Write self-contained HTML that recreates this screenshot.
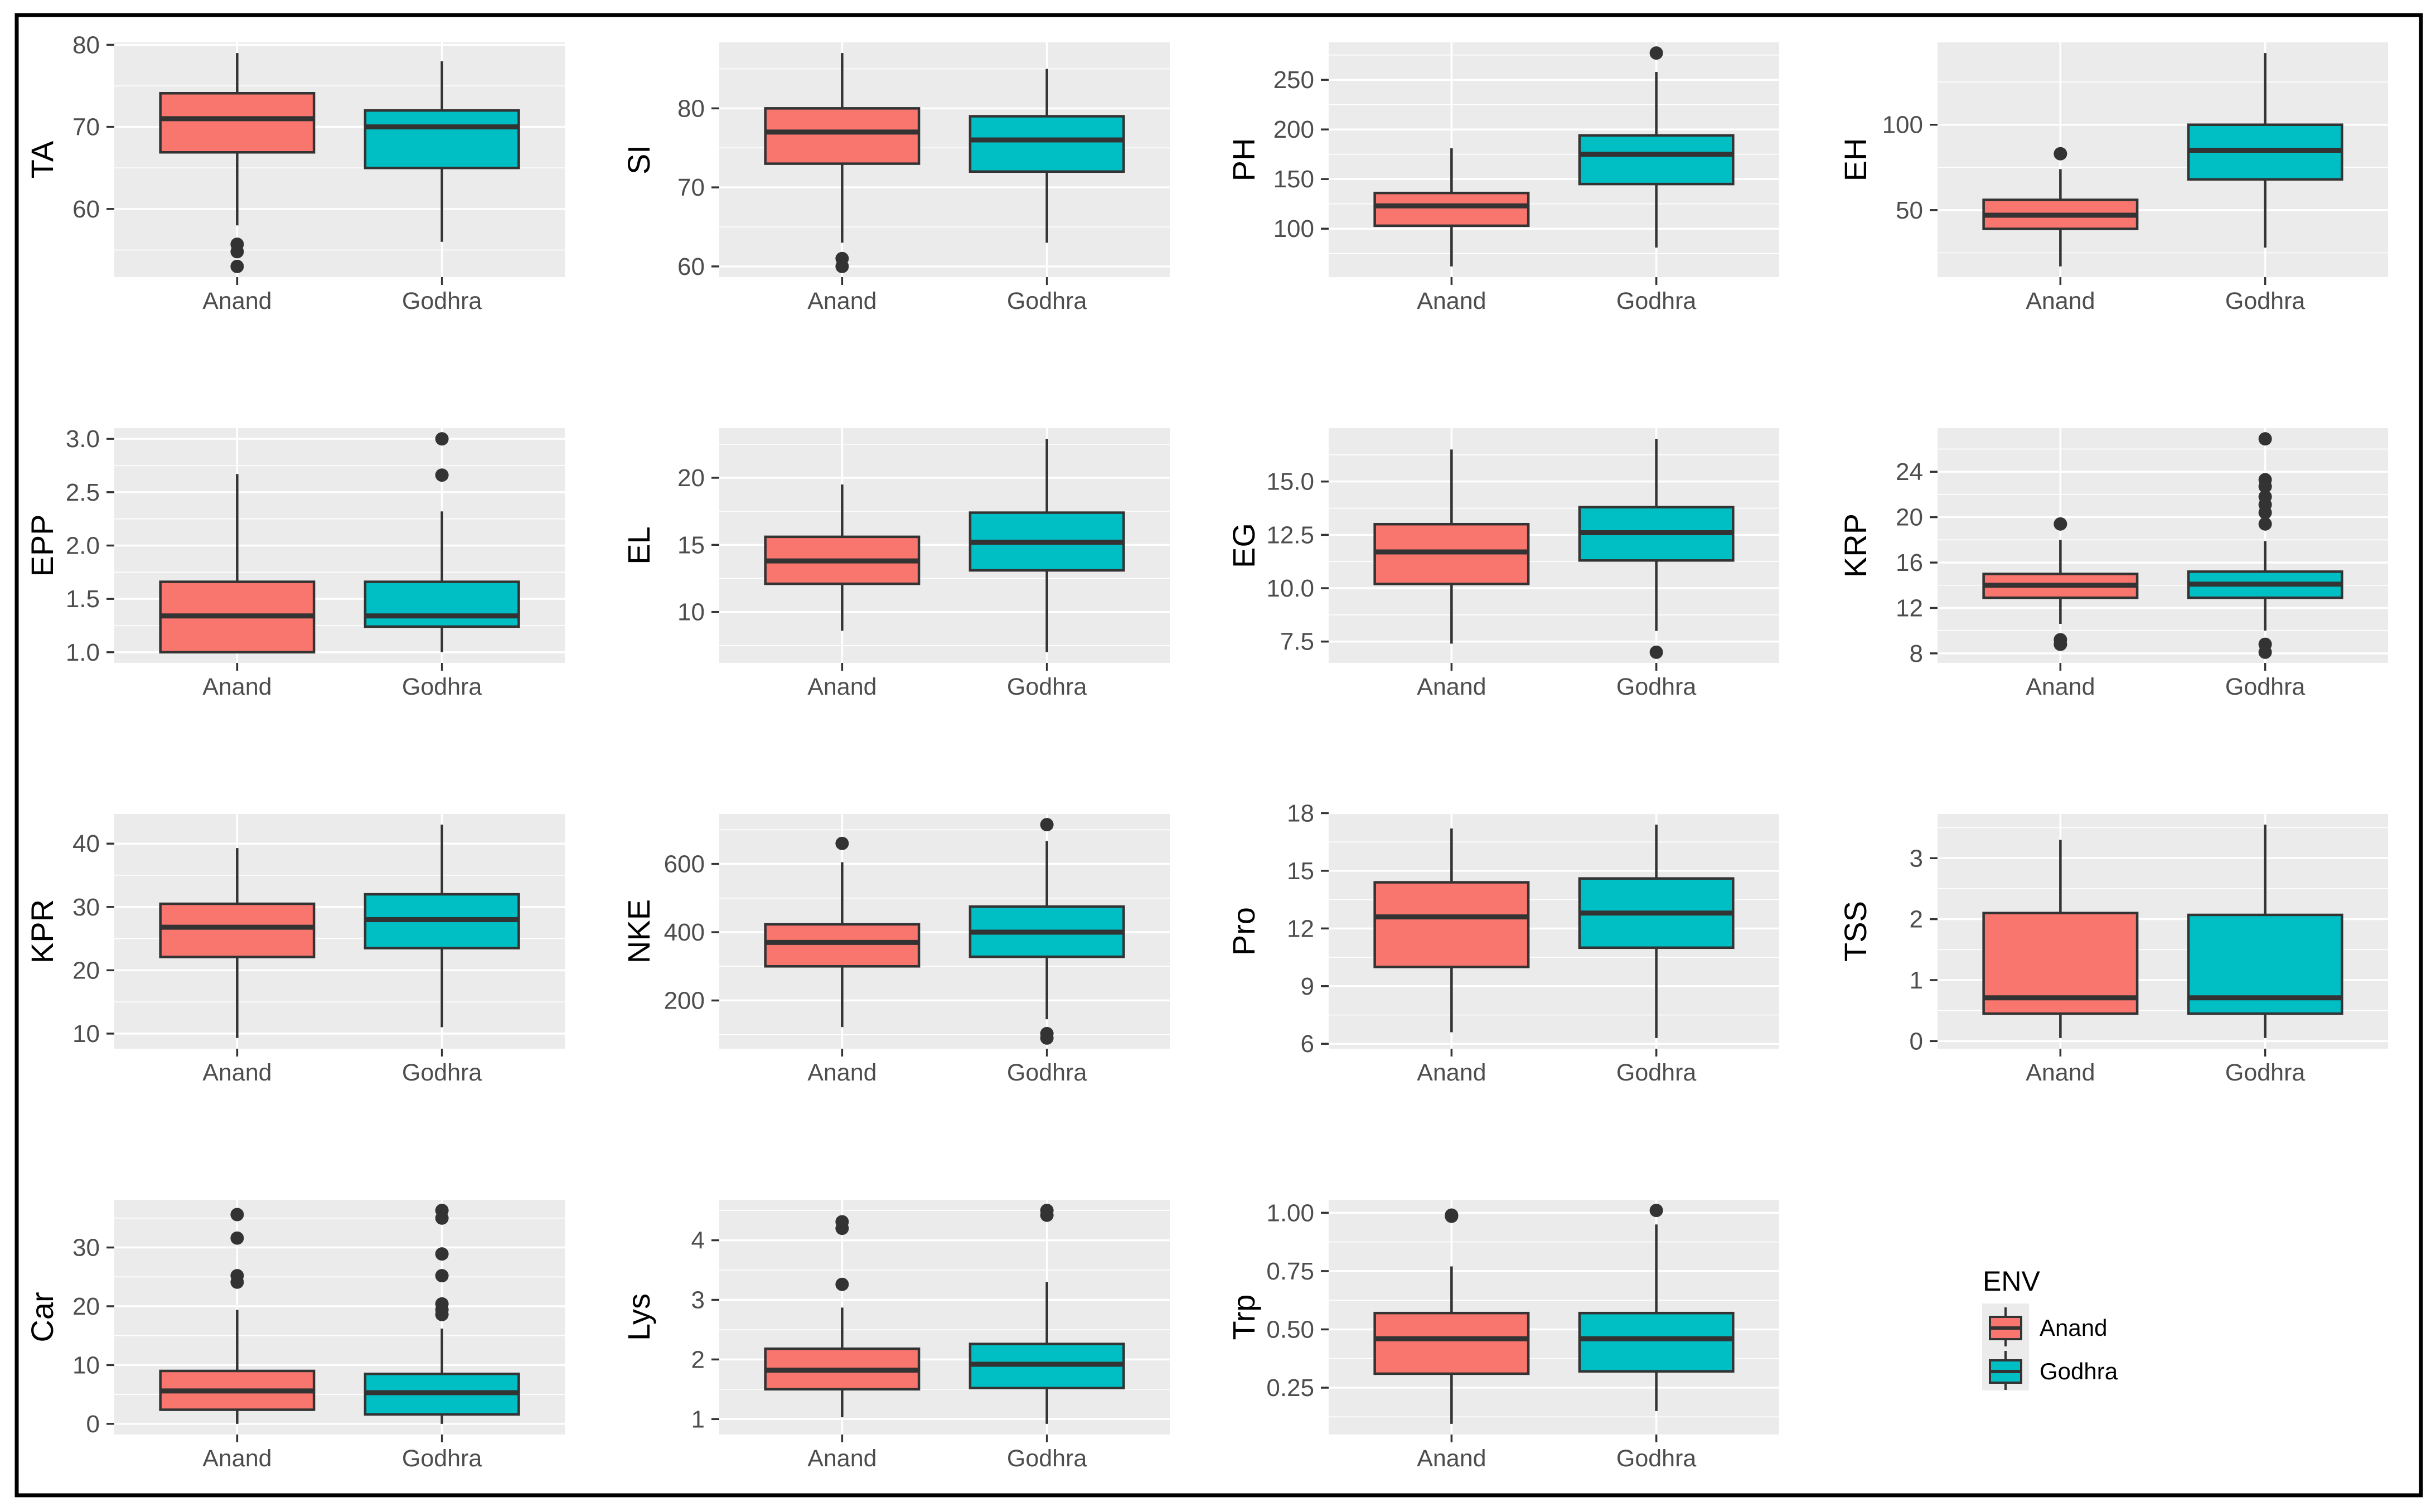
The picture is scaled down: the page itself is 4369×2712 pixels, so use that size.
<!DOCTYPE html>
<html><head><meta charset="utf-8"><style>
html,body{margin:0;padding:0;background:#fff;}
svg{display:block;font-family:"Liberation Sans",Arial,sans-serif;}
</style></head><body>
<svg id="chart" xmlns="http://www.w3.org/2000/svg" width="4369" height="2712" viewBox="0 0 4369 2712">
<rect x="30" y="27" width="4312" height="2655" fill="#fff" stroke="#000" stroke-width="7"/>
<g id="panels"></g>
<g>
<text x="3556" y="2315" font-size="50" fill="#000">ENV</text>
<rect x="3555" y="2338" width="84" height="156" fill="#ebebeb"/>
<g>
<line x1="3597" y1="2345" x2="3597" y2="2415" stroke="#333" stroke-width="4"/>
<rect x="3569" y="2362" width="56" height="40" fill="#F8766D" stroke="#333" stroke-width="4"/>
<line x1="3569" y1="2382" x2="3625" y2="2382" stroke="#333" stroke-width="6"/>
<text x="3658" y="2396" font-size="42" fill="#000">Anand</text>
</g>
<g>
<line x1="3597" y1="2423" x2="3597" y2="2493" stroke="#333" stroke-width="4"/>
<rect x="3569" y="2440" width="56" height="40" fill="#00BFC4" stroke="#333" stroke-width="4"/>
<line x1="3569" y1="2460" x2="3625" y2="2460" stroke="#333" stroke-width="6"/>
<text x="3658" y="2474" font-size="42" fill="#000">Godhra</text>
</g>
</g>
</svg>
<script>
const categories = ['Anand','Godhra'];
const varNames = ['TA','SI','PH','EH','EPP','EL','EG','KRP','KPR','NKE','Pro','TSS','Car','Lys','Trp'];
// [lower whisker, Q1, median, Q3, upper whisker]
const anandStats = [
 [58,66.9,71,74.1,79],[63,73,77,80,87],[62,103,123,136,181],[17,39,47,56,74],
 [1.0,1.0,1.34,1.66,2.67],[8.6,12.1,13.8,15.6,19.5],[7.4,10.2,11.7,13.0,16.5],[10.6,12.9,14,15,18],
 [9.3,22.1,26.8,30.5,39.3],[122,300,370,423,605],[6.6,10.0,12.6,14.4,17.2],[0.05,0.45,0.71,2.1,3.3],
 [0,2.4,5.6,9.0,19.4],[1.03,1.5,1.82,2.18,2.87],[0.095,0.31,0.46,0.57,0.77]];
const godhraStats = [
 [56,65,70,72,78],[63,72,76,79,85],[81,145,175,194,258],[28,68,85,100,142],
 [1.0,1.24,1.34,1.66,2.32],[7.0,13.1,15.2,17.4,22.9],[8.0,11.3,12.6,13.8,17.0],[10.0,12.9,14.1,15.2,17.9],
 [11,23.5,28,32,43],[145,328,400,475,667],[6.3,11.0,12.8,14.6,17.4],[0.05,0.45,0.71,2.07,3.55],
 [0,1.6,5.3,8.5,16.2],[0.92,1.52,1.92,2.26,3.3],[0.15,0.32,0.46,0.57,0.95]];
const anandOut = [[55.7,54.8,53],[61,60],[],[83],[],[],[],[19.4,9.2,8.8],[],[660],[],[],[35.6,31.6,25.2,24.1],[4.31,4.2,3.26],[0.99,0.985]];
const godhraOut = [[],[],[277],[],[3.0,2.66],[],[7.0],[26.9,23.3,22.7,21.8,21.1,20.4,19.4,8.8,8.1],[],[715,103,90],[],[],[36.3,35.0,28.9,25.2,20.4,19.4,18.6],[4.5,4.42],[1.01]];
const tickVals = [[60,70,80],[60,70,80],[100,150,200,250],[50,100],[1.0,1.5,2.0,2.5,3.0],[10,15,20],[7.5,10,12.5,15],[8,12,16,20,24],
 [10,20,30,40],[200,400,600],[6,9,12,15,18],[0,1,2,3],[0,10,20,30],[1,2,3,4],[0.25,0.5,0.75,1.0]];
const tickLabels = [['60','70','80'],['60','70','80'],['100','150','200','250'],['50','100'],['1.0','1.5','2.0','2.5','3.0'],['10','15','20'],['7.5','10.0','12.5','15.0'],['8','12','16','20','24'],
 ['10','20','30','40'],['200','400','600'],['6','9','12','15','18'],['0','1','2','3'],['0','10','20','30'],['1','2','3','4'],['0.25','0.50','0.75','1.00']];
const fills = ['#F8766D','#00BFC4'];

const NS='http://www.w3.org/2000/svg';
const root=document.getElementById('panels');
const colX=[205,1290,2383,3475], rowY=[76,768,1460,2152], titleX=[75,1145,2230,3327];
const W=808, H=421;
function mk(tag,attrs,parent){const e=document.createElementNS(NS,tag);for(const k in attrs)e.setAttribute(k,attrs[k]);parent.appendChild(e);return e;}

varNames.forEach((name,i)=>{
  const col=i%4,row=Math.floor(i/4),L=colX[col],T=rowY[row];
  const g=mk('g',{},root);
  
  
  const all=[...anandStats[i],...godhraStats[i],...anandOut[i],...godhraOut[i]];
  let lo=Math.min(...all),hi=Math.max(...all);const pad=(hi-lo)*0.05;lo-=pad;hi+=pad;
  const y=v=>T+H*(1-(v-lo)/(hi-lo));
  const x=c=>L+W*(0.6+c)/2.2;
  const bg=mk('rect',{x:L,y:T,width:W,height:H,fill:'#ebebeb'},g);
  
  
  const tv=tickVals[i];const step=tv[1]-tv[0];
  for(let m=tv[0]-step/2;m<=tv[tv.length-1]+step/2+1e-9;m+=step){
    if(m>lo&&m<hi){const gl=mk('line',{x1:L,x2:L+W,y1:y(m),y2:y(m),stroke:'#fff','stroke-width':1.6},g);
      
      }
  }
  tv.forEach((v,k)=>{
    const gl=mk('line',{x1:L,x2:L+W,y1:y(v),y2:y(v),stroke:'#fff','stroke-width':3.5},g);
    
    
    mk('line',{x1:L-14,x2:L,y1:y(v),y2:y(v),stroke:'#333','stroke-width':3.5},g);
    const t=mk('text',{x:L-26,y:y(v)+15,'font-size':44,fill:'#4d4d4d','text-anchor':'end'},g);
    t.textContent=tickLabels[i][k];
    
    
  });
  const yt=mk('text',{x:titleX[col]+20,y:T+H/2,'font-size':56,fill:'#000','text-anchor':'middle',transform:`rotate(-90 ${titleX[col]+20} ${T+H/2})`},g);
  yt.textContent=name;
  
  
  categories.forEach((cat,c)=>{
    const cx=x(c);
    mk('line',{x1:cx,x2:cx,y1:T,y2:T+H,stroke:'#fff','stroke-width':3.5},g);
    mk('line',{x1:cx,x2:cx,y1:T+H,y2:T+H+14,stroke:'#333','stroke-width':3.5},g);
    const xl=mk('text',{x:cx,y:T+H+57,'font-size':43,fill:'#4d4d4d','text-anchor':'middle'},g);
    xl.textContent=cat;
    
    
    const s=(c===0?anandStats:godhraStats)[i];
    const bw=W/2.2*0.75;
    const bg2=mk('g',{},g);
    
    
    mk('line',{x1:cx,x2:cx,y1:y(s[0]),y2:y(s[1]),stroke:'#333','stroke-width':4.5},bg2);
    mk('line',{x1:cx,x2:cx,y1:y(s[3]),y2:y(s[4]),stroke:'#333','stroke-width':4.5},bg2);
    mk('rect',{x:cx-bw/2,y:y(s[3]),width:bw,height:Math.max(0.5,y(s[1])-y(s[3])),fill:fills[c],stroke:'#333','stroke-width':4.5},bg2);
    mk('line',{x1:cx-bw/2,x2:cx+bw/2,y1:y(s[2]),y2:y(s[2]),stroke:'#333','stroke-width':9},bg2);
    (c===0?anandOut:godhraOut)[i].forEach(o=>{
      const p=mk('circle',{cx:cx,cy:y(o),r:12,fill:'#333'},bg2);
      
      
    });
  });
});
</script>
</body></html>
